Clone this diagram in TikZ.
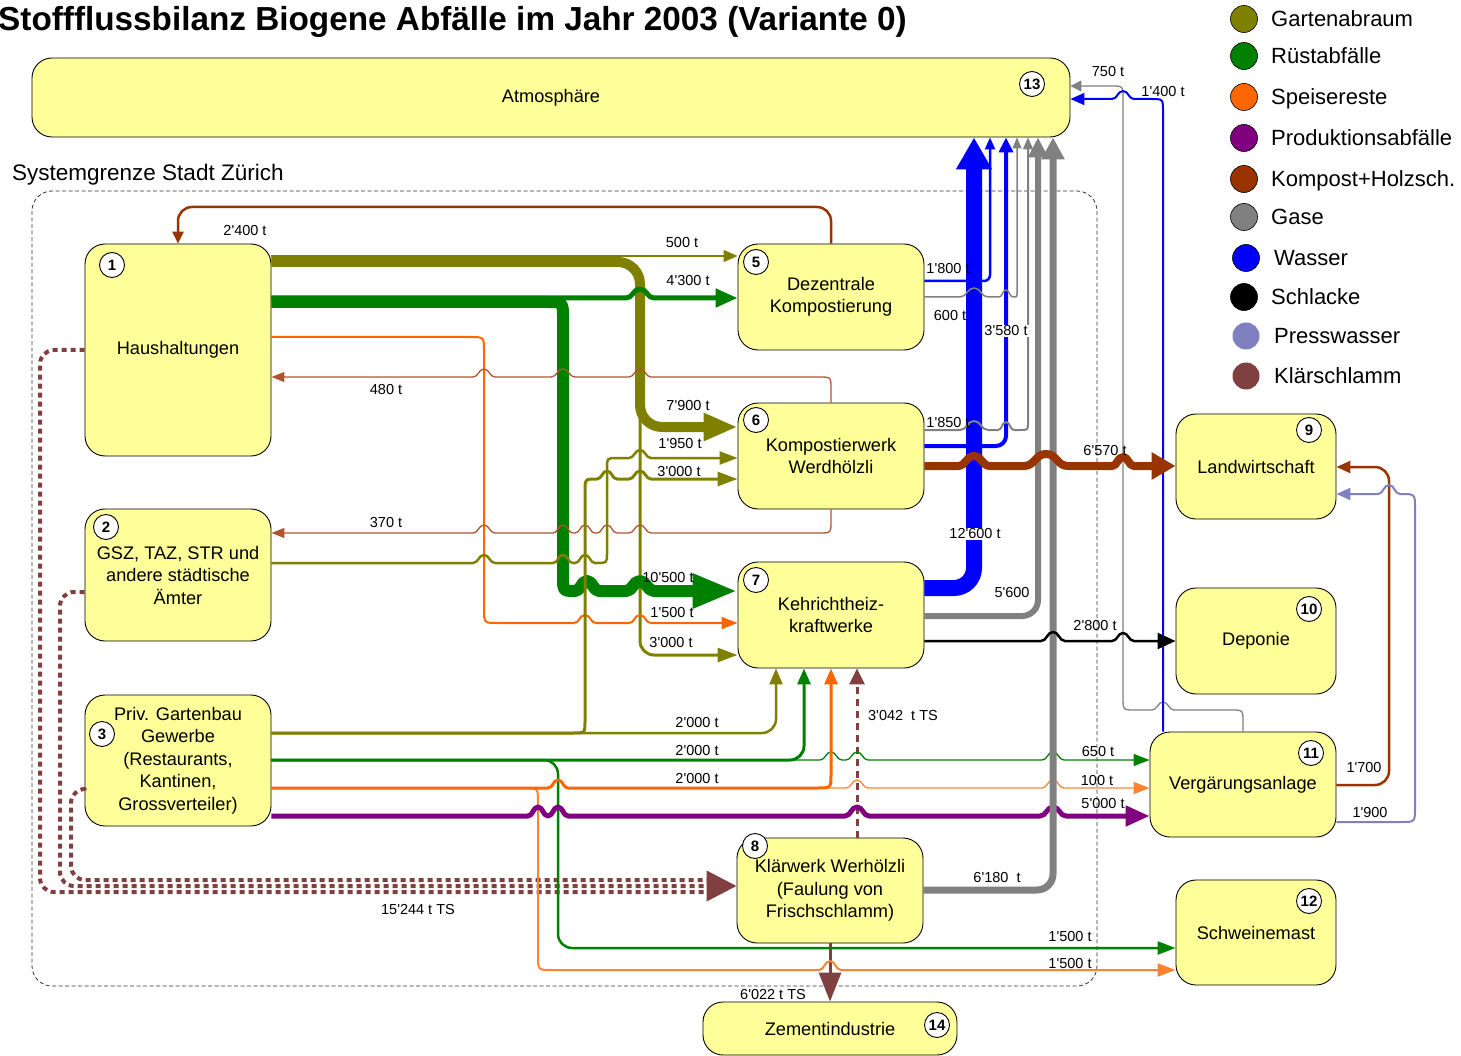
\documentclass[tikz,border=0pt]{standalone}
\usepackage{fontspec}
\setmainfont{Liberation Sans}[Ligatures=TeXOff]
\usetikzlibrary{arrows.meta}
\definecolor{boxy}{RGB}{255,255,153}
\definecolor{cOliv}{RGB}{128,128,0}
\definecolor{cGreen}{RGB}{0,128,0}
\definecolor{cOrange}{RGB}{255,102,0}
\definecolor{cOrangeL}{RGB}{255,130,50}
\definecolor{cPurple}{RGB}{128,0,128}
\definecolor{cBrown}{RGB}{153,51,0}
\definecolor{cBrownL}{RGB}{176,84,48}
\definecolor{cGray}{RGB}{128,128,128}
\definecolor{cBlue}{RGB}{0,0,255}
\definecolor{cPress}{RGB}{128,128,192}
\definecolor{cKlaer}{RGB}{128,64,64}
\newcommand\fNode{\fontsize{18.2}{22.5}\selectfont}
\newcommand\fLab{\fontsize{14.5}{16}\selectfont}
\newcommand\fNum{\fontsize{15}{16}\selectfont\bfseries}
\newcommand\fLeg{\fontsize{22}{24}\selectfont}
\newcommand\fTitle{\fontsize{33.3}{36}\selectfont\bfseries}
\newcommand\fSys{\fontsize{22.5}{24}\selectfont}
\newcommand\hopr[4]{-- (#1-#3,#2) .. controls (#1-#3/2,#2) and (#1-#3/2,#2-#4) .. (#1,#2-#4) .. controls (#1+#3/2,#2-#4) and (#1+#3/2,#2) .. (#1+#3,#2)}
\newcommand\hopl[4]{-- (#1+#3,#2) .. controls (#1+#3/2,#2) and (#1+#3/2,#2-#4) .. (#1,#2-#4) .. controls (#1-#3/2,#2-#4) and (#1-#3/2,#2) .. (#1-#3,#2)}
\tikzset{
 box/.style={draw=black, line width=0.9pt, fill=boxy, rounded corners=20pt, align=center, font=\fNode, inner sep=0pt},
 num/.style={circle, draw=black, line width=0.9pt, fill=white, inner sep=0pt, minimum size=25pt, font=\fNum},
 lab/.style={font=\fLab, inner sep=1pt},
 legc/.style={circle, draw=black, line width=0.6pt, minimum size=27pt, inner sep=0pt},
 legt/.style={anchor=base west, font=\fLeg, inner sep=0pt},
 atip/.style 2 args={-{Triangle[length=#1pt,width=#2pt]}},
 kdot/.style={cKlaer, line width=4pt, dash pattern=on 5pt off 4pt, rounded corners=14pt},
}
\begin{document}
\begin{tikzpicture}[x=1pt,y=-1pt,line join=round]
\useasboundingbox (0,0) rectangle (1461,1056);
% title and system border
\node[anchor=base west, font=\fTitle, inner sep=0pt] (title) at (-2,31) {Stoffflussbilanz Biogene Abfälle im Jahr 2003 (Variante 0)};
\node[anchor=base west, font=\fSys, inner sep=0pt] (sys) at (12,181) {Systemgrenze Stadt Zürich};
\draw[black!80, line width=0.8pt, dash pattern=on 4pt off 2.5pt, rounded corners=20pt] (32,191) rectangle (1097,986);
% nodes
\node[box, minimum width=1038pt, minimum height=79pt] (n13) at (551,97.5) {Atmosphäre};
\node[box, minimum width=186pt, minimum height=212pt] (n1) at (178,350) {Haushaltungen};
\node[box, minimum width=186pt, minimum height=132pt] (n2) at (178,575) {GSZ, TAZ, STR und\\andere städtische\\Ämter};
\node[box, minimum width=186pt, minimum height=131pt] (n3) at (178,760.5) {Priv. Gartenbau\\Gewerbe\\(Restaurants,\\Kantinen,\\Grossverteiler)};
\node[box, minimum width=186pt, minimum height=106pt] (n5) at (831,297) {Dezentrale\\Kompostierung};
\node[box, minimum width=186pt, minimum height=106pt] (n6) at (831,456) {Kompostierwerk\\Werdhölzli};
\node[box, minimum width=186pt, minimum height=106pt] (n7) at (831,615) {Kehrichtheiz-\\kraftwerke};
\node[box, minimum width=186pt, minimum height=105pt] (n8) at (830,890.5) {Klärwerk Werhölzli\\(Faulung von\\Frischschlamm)};
\node[box, minimum width=160pt, minimum height=105pt] (n9) at (1256,466.5) {Landwirtschaft};
\node[box, minimum width=160pt, minimum height=106pt] (n10) at (1256,641) {Deponie};
\node[box, minimum width=186pt, minimum height=105pt] (n11) at (1243,784.5) {Vergärungsanlage};
\node[box, minimum width=160pt, minimum height=105pt] (n12) at (1256,932.5) {Schweinemast};
\node[box, minimum width=254pt, minimum height=53pt] (n14) at (830,1028.5) {Zementindustrie};
% ---- flows ----
% brown 2400
\draw[cBrown, line width=2.5pt, rounded corners=14pt, atip={12}{11}] (n5.north) -- (831,207) -- (178,207) -- (n1.north);
% olive from 1
\draw[cOliv, line width=1.5pt, atip={14}{12}] (n1.east |- 0,256) -- (n5.west |- 0,256);
\draw[cOliv, line width=3pt, rounded corners=14pt, atip={20}{14}] (n1.east |- 0,262) -- (640,262) -- (640,655) -- (n7.west |- 0,655);
\draw[cOliv, line width=10pt, rounded corners=22pt, atip={34}{26}] (n1.east |- 0,262) -- (640,262) -- (640,427) -- (n6.west |- 0,427);
% green from 1
\draw[cGreen, line width=5pt, atip={22}{18}] (n1.east |- 0,298) \hopr{640}{298}{14}{9} -- (n5.west |- 0,298);
\draw[cGreen, line width=12pt, atip={45}{32}] (n1.east |- 0,302) -- (547,302) .. controls (563,302) .. (563,318) -- (563,577) .. controls (563,591) .. (575,591) \hopr{587}{591}{12}{10} \hopr{640}{591}{14}{10} -- (n7.west |- 0,591);
% orange from 1
\draw[cOrange, line width=2pt, atip={16}{12}] (n1.east |- 0,337) -- (470,337) .. controls (484,337) .. (484,351) -- (484,609) .. controls (484,623) .. (498,623) \hopr{585}{623}{11}{8} \hopr{640}{623}{11}{8} -- (n7.west |- 0,623);
% brown 480 and 370
\draw[cBrownL, line width=1.3pt, atip={13}{10}] (n6.north) -- (831,389) .. controls (831,377) .. (819,377) \hopl{640}{377}{11}{8} \hopl{563}{377}{12}{8} \hopl{484}{377}{11}{8} -- (n1.east |- 0,377);
\draw[cBrownL, line width=1.3pt, atip={13}{10}] (n6.south) -- (831,521) .. controls (831,533) .. (819,533) \hopl{640}{533}{11}{8} \hopl{607}{533}{10}{8} \hopl{585}{533}{10}{8} \hopl{563}{533}{10}{8} \hopl{484}{533}{11}{8} -- (n2.east |- 0,533);
% olive from 2
\draw[cOliv, line width=2.5pt, atip={18}{13}] (n2.east |- 0,563) \hopr{484}{563}{11}{8} \hopr{563}{563}{10}{8} \hopr{585}{563}{10}{8} -- (597,563) .. controls (607,563) .. (607,553) -- (607,468) .. controls (607,458) .. (617,458) \hopr{640}{458}{11}{8} -- (n6.west |- 0,458);
% olive from 3
\draw[cOliv, line width=3pt, atip={20}{14}] (n3.east |- 0,733) -- (573,733) .. controls (585,733) .. (585,721) -- (585,491) .. controls (585,479) .. (597,479) \hopr{607}{479}{10}{8} \hopr{640}{479}{11}{8} -- (n6.west |- 0,479);
\draw[cOliv, line width=2.5pt, rounded corners=14pt, atip={16}{13}] (n3.east |- 0,733) -- (776,733) -- (n7.south -| 776,0);
% Klaerschlamm
\draw[kdot] (n1.west) -- (40,350) -- (40,892) -- (712,892);
\draw[kdot] (n3.west |- 0,789) -- (71,789) -- (71,880) -- (712,880);
\draw[kdot, atip={30}{30}] (n2.west |- 0,592) -- (60,592) -- (60,886) -- (n8.west |- 0,886);
\draw[cKlaer, line width=3pt, dash pattern=on 7pt off 5pt, atip={16}{15}] (n8.north -| 857,0) -- (n7.south -| 857,0);
\draw[cKlaer, line width=3pt, atip={29}{22}] (n8.south) -- (n14.north);
% green from 3
\draw[cGreen, line width=1.3pt, atip={16}{12}] (n3.east |- 0,760) \hopr{831}{760}{11}{8} \hopr{857}{760}{11}{8} \hopr{1053}{760}{11}{8} -- (n11.west |- 0,760);
\draw[cGreen, line width=2.5pt, rounded corners=14pt, atip={18}{13}] (n3.east |- 0,760) -- (558,760) -- (558,948) -- (n12.west |- 0,948);
\draw[cGreen, line width=3pt, rounded corners=14pt, atip={16}{13}] (n3.east |- 0,760) -- (804,760) -- (n7.south -| 804,0);
% orange from 3
\draw[cOrangeL, line width=1.3pt, atip={16}{12}] (n3.east |- 0,788) \hopr{558}{788}{10}{8} \hopr{857}{788}{11}{8} \hopr{1053}{788}{11}{8} -- (n11.west |- 0,788);
\draw[cOrangeL, line width=2pt, atip={18}{13}] (n3.east |- 0,788) -- (524,788) .. controls (538,788) .. (538,802) -- (538,956) .. controls (538,970) .. (552,970) \hopr{830}{970}{11}{9} -- (n12.west |- 0,970);
\draw[cOrange, line width=3pt, atip={16}{13}] (n3.east |- 0,788) \hopr{558}{788}{10}{8} -- (817,788) .. controls (831,788) .. (831,774) -- (n7.south -| 831,0);
% purple
\draw[cPurple, line width=5pt, atip={24}{20}] (n3.east |- 0,816) \hopr{538}{816}{10}{9} \hopr{558}{816}{10}{9} \hopr{857}{816}{12}{9} \hopr{1053}{816}{13}{9} -- (n11.west |- 0,816);
% gray 6180
\draw[cGray, line width=7pt, rounded corners=16pt, atip={22}{22}] (n8.east |- 0,890) -- (1053,890) -- (n13.south -| 1053,0);
% node 7 outputs
\draw[cGray, line width=6pt, rounded corners=16pt, atip={20}{19}] (n7.east |- 0,616) -- (1038,616) -- (n13.south -| 1038,0);
\draw[cBlue, line width=2.5pt, rounded corners=6pt, atip={12}{10}] (n5.east |- 0,281) -- (990,281) -- (n13.south -| 990,0);
\draw[cBlue, line width=4pt, rounded corners=10pt, atip={15}{14}] (n6.east |- 0,446) -- (1006,446) -- (n13.south -| 1006,0);
\draw[cBlue, line width=16pt, rounded corners=20pt, atip={32}{34}] (n7.east |- 0,588) -- (974,588) -- (n13.south -| 974,0);
% blue / gray from 11
\draw[cGray, line width=1.3pt, atip={11}{11}] (n11.north) -- (1243,722) .. controls (1243,710) .. (1231,710) \hopl{1163}{710}{11}{8} -- (1135,710) .. controls (1123,710) .. (1123,698) -- (1123,98) .. controls (1123,86) .. (1111,86) -- (n13.east |- 0,86);
\draw[cBlue, line width=2pt, atip={14}{12}] (n11.north -| 1163,0) -- (1163,111) .. controls (1163,99) .. (1151,99) \hopl{1123}{99}{11}{8} -- (n13.east |- 0,99);
% gray from 5 and 6
\draw[cGray, line width=1.5pt, atip={11}{9}] (n5.east |- 0,297) \hopr{974}{297}{14}{9} \hopr{1006}{297}{7}{7} -- (1013,297) .. controls (1017,297) .. (1017,293) -- (n13.south -| 1017,0);
\draw[cGray, line width=2pt, atip={12}{10}] (n6.east |- 0,430) \hopr{974}{430}{14}{9} \hopr{1006}{430}{8}{8} -- (1020,430) .. controls (1028,430) .. (1028,422) -- (n13.south -| 1028,0);
% brown 6570
\draw[cBrown, line width=8pt, atip={24}{26}] (n6.east |- 0,466) \hopr{974}{466}{16}{10} \hopr{1046}{466}{22}{12} \hopr{1123}{466}{11}{9} -- (n9.west |- 0,466);
% black 2800
\draw[black, line width=2.5pt, atip={18}{16}] (n7.east |- 0,641) \hopr{1053}{641}{12}{9} \hopr{1123}{641}{11}{8} -- (n10.west |- 0,641);
% from 11 to 9
\draw[cBrown, line width=2.5pt, rounded corners=14pt, atip={14}{12}] (n11.east |- 0,785) -- (1389,785) -- (1389,467) -- (n9.east |- 0,467);
\draw[cPress, line width=2pt, atip={14}{12}] (n11.east |- 0,822) -- (1401,822) .. controls (1415,822) .. (1415,808) -- (1415,508) .. controls (1415,494) .. (1401,494) \hopl{1389}{494}{11}{9} -- (n9.east |- 0,494);
% ---- labels ----
\node[lab] (l1) at (245,231) {2'400 t};
\node[lab] (l2) at (682,243) {500 t};
\node[lab] (l3) at (688,281) {4'300 t};
\node[lab] (l4) at (386,390) {480 t};
\node[lab] (l5) at (688,406) {7'900 t};
\node[lab] (l6) at (680,444) {1'950 t};
\node[lab] (l7) at (679,472) {3'000 t};
\node[lab] (l8) at (386,523) {370 t};
\node[lab] (l9) at (668,578) {10'500 t};
\node[lab] (l10) at (672,613) {1'500 t};
\node[lab] (l11) at (671,643) {3'000 t};
\node[lab] (l12) at (697,723) {2'000 t};
\node[lab] (l13) at (697,751) {2'000 t};
\node[lab] (l14) at (697,779) {2'000 t};
\node[lab] (l15) at (903,716) {3'042\ \ t TS};
\node[lab] (l16) at (418,910) {15'244 t TS};
\node[lab] (l17) at (773,994) {6'022 t TS};
\node[lab] (l18) at (1070,937) {1'500 t};
\node[lab] (l19) at (1070,963) {1'500 t};
\node[lab] (l20) at (1098,752) {650 t};
\node[lab] (l21) at (1097,781) {100 t};
\node[lab] (l22) at (1103,804) {5'000 t};
\node[lab] (l23) at (997,878) {6'180\ \ t};
\node[lab] (l24) at (1095,626) {2'800 t};
\node[lab] (l25) at (1012,593) {5'600};
\node[lab, fill=white] (l26) at (975,534) {12'600 t};
\node[lab] (l27) at (1105,451) {6'570 t};
\node[lab] (l28) at (948,423) {1'850 t};
\node[lab, fill=white] (l29) at (1006,331) {3'580 t};
\node[lab] (l30) at (950,316) {600 t};
\node[lab] (l31) at (948,269) {1'800 t};
\node[lab] (l32) at (1108,72) {750 t};
\node[lab] (l33) at (1163,92) {1'400 t};
\node[lab] (l34) at (1364,768) {1'700};
\node[lab] (l35) at (1370,813) {1'900};
% number circles
\node[num] (k1) at (112,265) {1};
\node[num] (k2) at (106,527) {2};
\node[num] (k3) at (102,734) {3};
\node[num] (k5) at (756,262) {5};
\node[num] (k6) at (756,420) {6};
\node[num] (k7) at (756,580) {7};
\node[num] (k8) at (755,846) {8};
\node[num] (k9) at (1309,430) {9};
\node[num] (k10) at (1309,609) {10};
\node[num] (k11) at (1311,753) {11};
\node[num] (k12) at (1309,901) {12};
\node[num] (k13) at (1032,84) {13};
\node[num] (k14) at (937,1025) {14};
% legend
\node[legc, fill=cOliv] (g1) at (1244,19) {};
\node[legt] (t1) at (1271,26.5) {Gartenabraum};
\node[legc, fill=cGreen] (g2) at (1244,56) {};
\node[legt] (t2) at (1271,63.5) {Rüstabfälle};
\node[legc, fill=cOrange] (g3) at (1244,97) {};
\node[legt] (t3) at (1271,104.5) {Speisereste};
\node[legc, fill=cPurple] (g4) at (1244,138) {};
\node[legt] (t4) at (1271,145.5) {Produktionsabfälle};
\node[legc, fill=cBrown] (g5) at (1244,179) {};
\node[legt] (t5) at (1271,186.5) {Kompost+Holzsch.};
\node[legc, fill=cGray] (g6) at (1244,217) {};
\node[legt] (t6) at (1271,224.5) {Gase};
\node[legc, fill=cBlue] (g7) at (1246,258) {};
\node[legt] (t7) at (1274,265.5) {Wasser};
\node[legc, fill=black] (g8) at (1244,297) {};
\node[legt] (t8) at (1271,304.5) {Schlacke};
\node[legc, fill=cPress, draw=none] (g9) at (1246,336) {};
\node[legt] (t9) at (1274,343.5) {Presswasser};
\node[legc, fill=cKlaer, draw=none] (g10) at (1246,376) {};
\node[legt] (t10) at (1274,383.5) {Klärschlamm};
\end{tikzpicture}
\end{document}
